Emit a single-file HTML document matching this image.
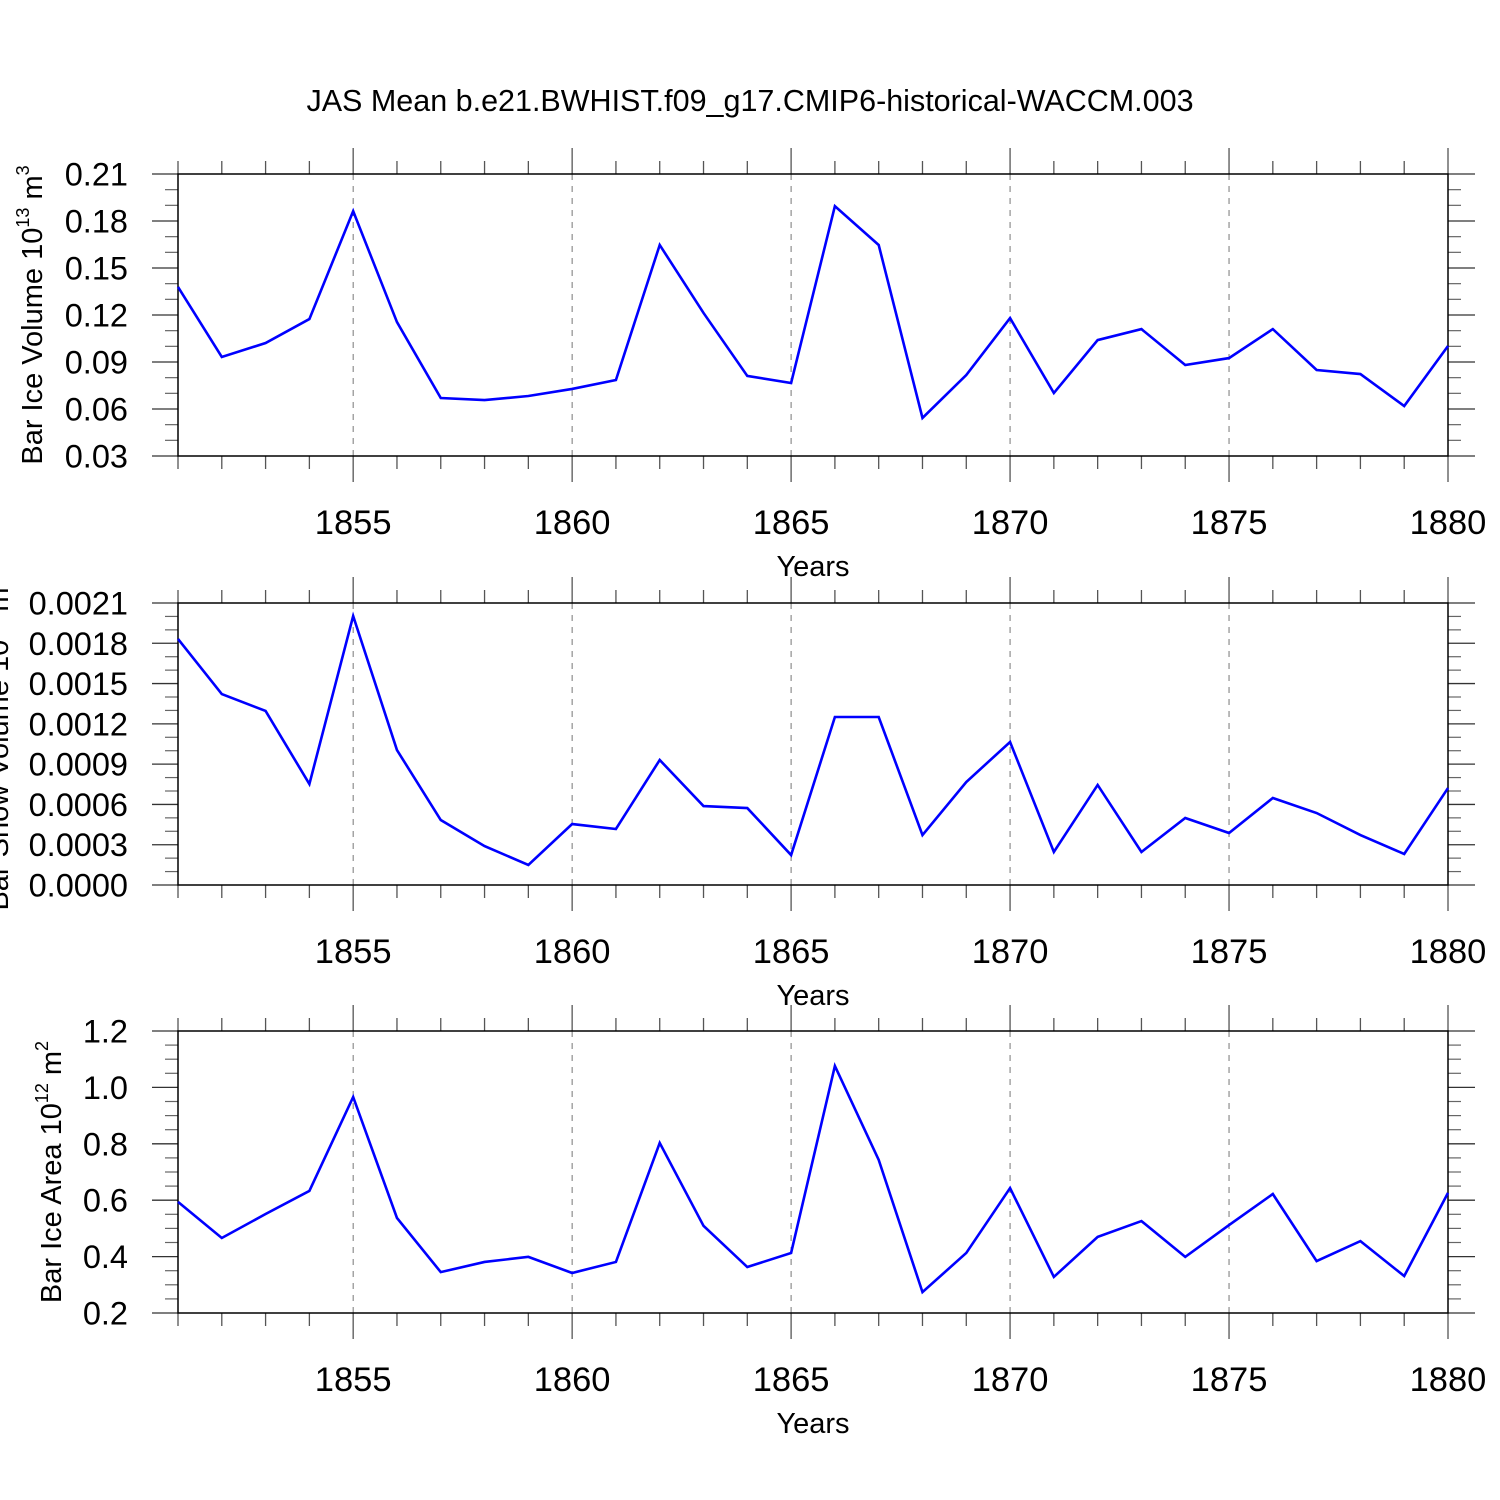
<!DOCTYPE html>
<html><head><meta charset="utf-8"><style>
html,body{margin:0;padding:0;background:#fff;}
svg{display:block;font-family:"Liberation Sans",Arial,sans-serif;}
</style></head><body>
<svg id="chart" width="1500" height="1500" viewBox="0 0 1500 1500">
<text x="750" y="111" text-anchor="middle" font-size="30.5">JAS Mean b.e21.BWHIST.f09_g17.CMIP6-historical-WACCM.003</text>
</svg>
<script>
const years = [1851,1852,1853,1854,1855,1856,1857,1858,1859,1860,1861,1862,1863,1864,1865,1866,1867,1868,1869,1870,1871,1872,1873,1874,1875,1876,1877,1878,1879,1880];
const iceVolume = [0.1379,0.0932,0.1021,0.1174,0.1863,0.1155,0.0670,0.0657,0.0683,0.0728,0.0785,0.1647,0.1213,0.0811,0.0766,0.1895,0.1647,0.0543,0.0817,0.1180,0.0702,0.1040,0.1110,0.0881,0.0925,0.1110,0.0849,0.0823,0.0619,0.1002];
const snowVolume = [0.001832,0.001422,0.001296,0.000752,0.002003,0.001005,0.000484,0.000290,0.000149,0.000454,0.000417,0.000931,0.000588,0.000573,0.000223,0.001251,0.001251,0.000372,0.000767,0.001065,0.000246,0.000745,0.000246,0.000499,0.000387,0.000648,0.000536,0.000372,0.000231,0.000722];
const iceArea = [0.594,0.466,0.551,0.633,0.966,0.537,0.345,0.381,0.399,0.342,0.381,0.803,0.509,0.363,0.413,1.076,0.743,0.274,0.413,0.643,0.328,0.470,0.526,0.399,0.512,0.622,0.384,0.455,0.331,0.626];
const xTickYears = [1855,1860,1865,1870,1875,1880];
const iceVolTicks = ["0.03","0.06","0.09","0.12","0.15","0.18","0.21"];
const snowTicks = ["0.0000","0.0003","0.0006","0.0009","0.0012","0.0015","0.0018","0.0021"];
const areaTicks = ["0.2","0.4","0.6","0.8","1.0","1.2"];

const NS="http://www.w3.org/2000/svg";
const svg=document.getElementById('chart');
function mk(tag,attrs,parent){const e=document.createElementNS(NS,tag);for(const k in attrs)e.setAttribute(k,attrs[k]);(parent||svg).appendChild(e);return e;}
const X0=178,X1=1448;
const xs=y=>X0+(y-1851)*(X1-X0)/29;

function panel(name,top,values,ticks,ymin,ymax,minorPer,labelParts,labelX){
  const bot=top+282;
  const g=mk('g',{});
  
  
  const ys=v=>bot-(v-ymin)/(ymax-ymin)*282;
  xTickYears.forEach(yr=>{
    const l=mk('line',{x1:xs(yr),x2:xs(yr),y1:top,y2:bot,stroke:'#777','stroke-width':1,'stroke-dasharray':'6,6'},g);
    
    
  });
  for(let yr=1851;yr<=1880;yr++){
    const major=xTickYears.includes(yr);
    const len=major?26:13;
    mk('line',{x1:xs(yr),x2:xs(yr),y1:top-len,y2:top,stroke:'#555','stroke-width':1.3},g);
    mk('line',{x1:xs(yr),x2:xs(yr),y1:bot,y2:bot+len,stroke:'#555','stroke-width':1.3},g);
  }
  const step=(ymax-ymin)/(ticks.length-1);
  for(let i=0;i<ticks.length;i++){
    const yy=ys(ymin+i*step);
    mk('line',{x1:X0-26,x2:X0,y1:yy,y2:yy,stroke:'#333','stroke-width':1.3},g);
    mk('line',{x1:X1,x2:X1+27,y1:yy,y2:yy,stroke:'#333','stroke-width':1.3},g);
    const t=mk('text',{x:128,y:yy+11.5,'text-anchor':'end','font-size':32.5},g);
    t.textContent=ticks[i];
    
    
    if(i<ticks.length-1){
      for(let m=1;m<=minorPer;m++){
        const my=ys(ymin+i*step+m*step/(minorPer+1));
        mk('line',{x1:X0-13,x2:X0,y1:my,y2:my,stroke:'#666','stroke-width':1.2},g);
        mk('line',{x1:X1,x2:X1+13,y1:my,y2:my,stroke:'#666','stroke-width':1.2},g);
      }
    }
  }
  const fr=mk('rect',{x:X0,y:top,width:X1-X0,height:282,fill:'none',stroke:'#000','stroke-width':1.5},g);
  
  
  xTickYears.forEach(yr=>{
    const t=mk('text',{x:xs(yr),y:bot+78,'text-anchor':'middle','font-size':34.5},g);
    t.textContent=yr;
    
    
  });
  const xt=mk('text',{x:813,y:bot+120,'text-anchor':'middle','font-size':29},g);
  xt.textContent='Years';
  
  
  const cy=(top+bot)/2;
  const yl=mk('text',{x:labelX,y:cy,'text-anchor':'middle','font-size':29,transform:`rotate(-90 ${labelX} ${cy})`},g);
  
  
  const a=mk('tspan',{},yl);a.textContent=labelParts[0];
  const b=mk('tspan',{'font-size':18,dy:-13},yl);b.textContent=labelParts[1];
  const c=mk('tspan',{dy:13},yl);c.textContent=' '+labelParts[2];
  const d=mk('tspan',{'font-size':18,dy:-13},yl);d.textContent=labelParts[3];
  const pts=values.map((v,i)=>xs(years[i])+','+ys(v)).join(' ');
  const pl=mk('polyline',{points:pts,fill:'none',stroke:'#0000ff','stroke-width':2.6,'stroke-linejoin':'miter'},g);
  
  
}
panel('ice-volume',174,iceVolume,iceVolTicks,0.03,0.21,2,['Bar Ice Volume 10','13','m','3'],42);
panel('snow-volume',603,snowVolume,snowTicks,0,0.0021,2,['Bar Snow Volume 10','13','m','3'],8);
panel('ice-area',1031,iceArea,areaTicks,0.2,1.2,3,['Bar Ice Area 10','12','m','2'],61);
</script>
</body></html>
